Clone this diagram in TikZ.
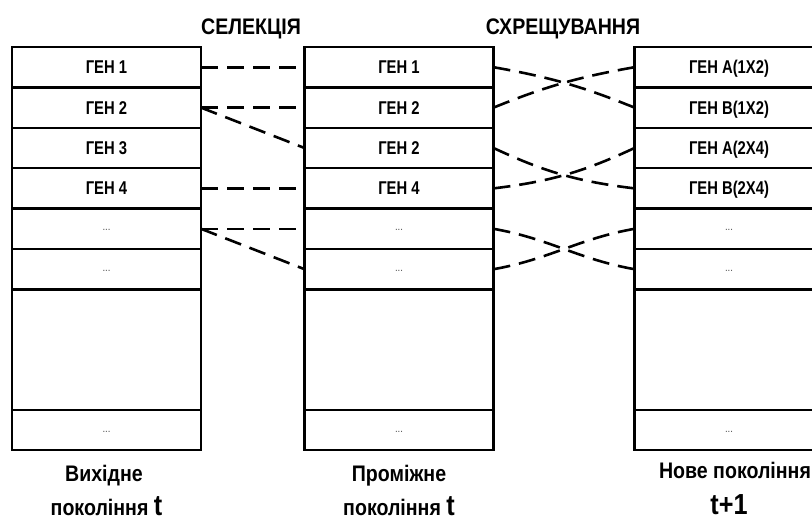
\documentclass[tikz,border=0pt]{standalone}
\usepackage{fontspec}
\newfontfamily\gfont[FakeStretch=0.87]{Liberation Sans}
\newfontfamily\nfont[FakeStretch=0.8]{Liberation Sans}
\tikzset{
  cell/.style={draw, line width=2.5pt, minimum width=189pt, minimum height=40.4pt,
    inner sep=0pt, outer sep=0pt, font=\nfont\bfseries\fontsize{18.5}{21}\selectfont,
    text height=13pt, text depth=0pt},
  dotcell/.style={cell, font=\gfont\fontsize{11}{12}\selectfont\color{black!70}, text height=4pt},
  bigcell/.style={cell, minimum height=120.6pt},
  link/.style={line width=2.6pt, dash pattern=on 17pt off 9pt},
  head/.style={anchor=base, inner sep=0pt, font=\gfont\bfseries\fontsize{22.5}{26}\selectfont},
  caption/.style={anchor=base, inner sep=0pt, font=\gfont\bfseries\fontsize{22.5}{26}\selectfont},
}
\newcommand{\bigt}[1]{{\fontsize{29}{30}\selectfont #1}}
\begin{document}
\begin{tikzpicture}[x=1pt,y=1pt]
\useasboundingbox (0,0) rectangle (812,-520);
\clip (0,0) rectangle (812,-520);
\fill[white] (0,0) rectangle (812,-520);

% headers
\node[head] (hsel) at (251,-34) {СЕЛЕКЦІЯ};
\node[head] (hcross) at (563,-34) {СХРЕЩУВАННЯ};

% generation t
\node[cell] (L1) at (106.5,-67.2) {ГЕН 1};
\node[cell] (L2) at (106.5,-107.6) {ГЕН 2};
\node[cell] (L3) at (106.5,-148.0) {ГЕН 3};
\node[cell] (L4) at (106.5,-188.4) {ГЕН 4};

% intermediate generation
\node[cell] (M1) at (399,-67.2) {ГЕН 1};
\node[cell] (M2) at (399,-107.6) {ГЕН 2};
\node[cell] (M3) at (399,-148.0) {ГЕН 2};
\node[cell] (M4) at (399,-188.4) {ГЕН 4};

% new generation
\node[cell] (R1) at (729,-67.2) {ГЕН A(1X2)};
\node[cell] (R2) at (729,-107.6) {ГЕН B(1X2)};
\node[cell] (R3) at (729,-148.0) {ГЕН A(2X4)};
\node[cell] (R4) at (729,-188.4) {ГЕН B(2X4)};

% common lower rows
\foreach \c/\x in {L/106.5, M/399, R/729} {
  \node[dotcell] (\c5) at (\x,-228.8) {...};
  \node[dotcell] (\c6) at (\x,-269.2) {...};
  \node[bigcell] (\c7) at (\x,-349.7) {};
  \node[dotcell] (\c8) at (\x,-430.0) {...};
}

% selection
\draw[link] (L1.east) -- (M1.west);
\draw[link] (L2.east) -- (M2.west);
\draw[link] (L2.east) -- (M3.west);
\draw[link] (L4.east) -- (M4.west);
\draw[link] (L5.east) -- (M5.west);
\draw[link] (L5.east) -- (M6.west);

% crossover
\draw[link] (M1.east) to[bend left=6] (R2.west);
\draw[link] (M2.east) to[bend left=6] (R1.west);
\draw[link] (M3.east) to[bend right=9] (R4.west);
\draw[link] (M4.east) to[bend right=9] (R3.west);
\draw[link] (M5.east) to[out=-10,in=170] (R6.west);
\draw[link] (M6.east) to[out=10,in=190] (R5.west);

% captions
\node[caption] (capL1) at (104,-481) {Вихідне};
\node[caption] (capL2) at (106.5,-515) {покоління \bigt{t}};
\node[caption] (capM1) at (399,-481) {Проміжне};
\node[caption] (capM2) at (399,-515) {покоління \bigt{t}};
\node[caption] (capR1) at (735,-478) {Нове покоління};
\node[caption] (capR2) at (729,-514) {\bigt{t+1}};
\end{tikzpicture}
\end{document}
